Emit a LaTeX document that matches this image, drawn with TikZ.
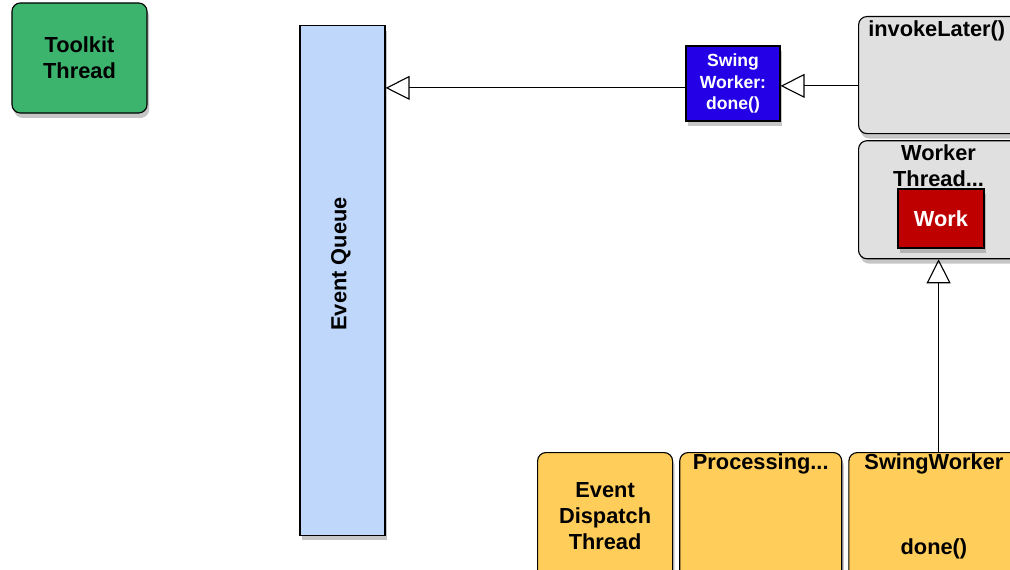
\documentclass[tikz,border=0pt]{standalone}
\usepackage{fontspec}
\setmainfont{Liberation Sans}
\usetikzlibrary{positioning}
\usetikzlibrary{shadows}
\usetikzlibrary{arrows.meta}

\definecolor{toolkitgreen}{RGB}{60,180,110}
\definecolor{queueblue}{RGB}{190,215,250}
\definecolor{workerblue}{RGB}{35,0,230}
\definecolor{threadgrey}{RGB}{224,224,224}
\definecolor{workred}{RGB}{190,0,0}
\definecolor{edtyellow}{RGB}{255,205,90}

\begin{document}
\begin{tikzpicture}
  [x=0.025cm, y=-0.025cm,
   every node/.style = {font=\fontsize{15.5}{18.5}\selectfont\bfseries, align=center, inner sep=0pt},
   box/.style = {draw, line width=0.8pt, drop shadow={shadow xshift=1.5pt, shadow yshift=-3.5pt, opacity=0.45}},
   roundbox/.style = {box, rounded corners=6pt},
   opentip/.style = {line width=0.8pt, -{Triangle[open, length=0.6cm, width=0.6cm]}}]
  \useasboundingbox (0,0) rectangle (1010,570);
  \clip (0,0) rectangle (1010,570);

  \node (toolkit) [roundbox, fill=toolkitgreen, minimum width=3.375cm, minimum height=2.75cm] at (79.5,58) {Toolkit\\Thread};
  \node (queue) [box, fill=queueblue, minimum width=2.125cm, minimum height=12.725cm] at (342.5,280.5) {};
  \node (queuetext) [rotate=90] at (341,264) {Event Queue};

  \node (swdone) [box, fill=workerblue, text=white, font=\fontsize{12.5}{15}\selectfont\bfseries,
    minimum width=2.35cm, minimum height=1.875cm] at (733,83.5) {Swing\\Worker:\\done()};

  \node (invoke) [roundbox, fill=threadgrey, minimum width=4cm, minimum height=2.925cm, anchor=north west] at (858,16) {};
  \node (invoketext) [anchor=north west] at ([xshift=0.25cm, yshift=-0.12cm]invoke.north west) {invokeLater()};
  \node (worker) [roundbox, fill=threadgrey, minimum width=4cm, minimum height=2.95cm, below=0.15cm of invoke] {};
  \node (workertext) [below=0.1cm of worker.north] {Worker\\Thread...};
  \node (work) [box, fill=workred, text=white, minimum width=2.15cm, minimum height=1.475cm] at (941,218.5) {Work};

  \node (edt) [roundbox, fill=edtyellow, minimum width=3.375cm, minimum height=3.2cm, anchor=north west] at (537,452) {Event\\Dispatch\\Thread};
  \node (proc) [roundbox, fill=edtyellow, minimum width=4.05cm, minimum height=3.2cm, right=0.15cm of edt] {};
  \node (proctext) [below=1pt of proc.north] {Processing...};
  \node (swing) [roundbox, fill=edtyellow, minimum width=4.25cm, minimum height=3.2cm, right=0.15cm of proc] {};
  \node (swingtext) [below=1pt of swing.north] {SwingWorker};
  \node (swingdone) [above=0.55cm of swing.south] {done()};

  \draw [opentip] ([yshift=-0.11cm]swdone.west) -- ([yshift=-0.11cm]swdone.west -| queue.east);
  \draw [opentip] ([yshift=-0.06cm]invoke.west |- swdone.east) -- ([yshift=-0.06cm]swdone.east);
  \draw [opentip] (worker.south |- swing.north) -- (worker.south);
\end{tikzpicture}
\end{document}
